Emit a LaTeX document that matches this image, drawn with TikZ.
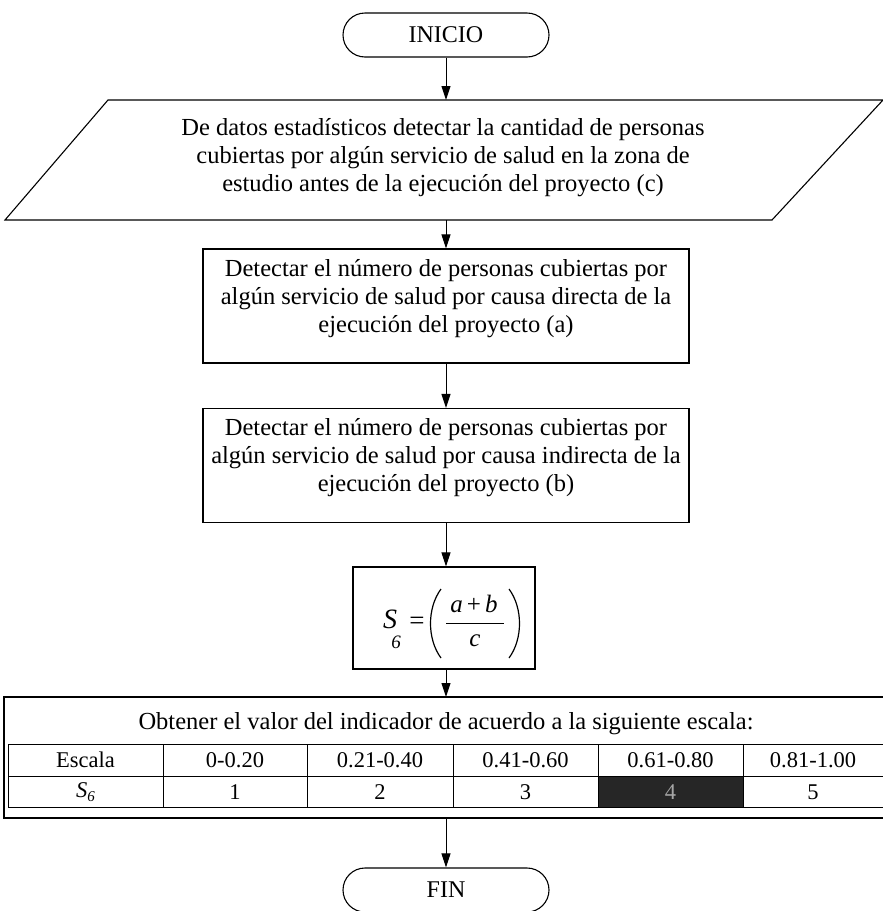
\documentclass[tikz,border=0pt]{standalone}
\usepackage{fontspec}
\setmainfont{Liberation Serif}
\usetikzlibrary{arrows.meta}
\begin{document}
\begin{tikzpicture}[x=1pt,y=-1pt,
  lw/.style={line width=1.1pt},
  arr/.style={line width=1pt,-{Triangle[width=9pt,length=14pt]}},
  txt/.style={align=center,font=\fontsize{24.5}{28}\selectfont,inner sep=0pt},
  term/.style={draw,lw,rounded corners=22pt,minimum width=206pt,minimum height=44pt,inner sep=0pt,font=\fontsize{24}{26}\selectfont},
  procbox/.style={draw,lw,minimum width=486pt,minimum height=114pt,inner sep=0pt},
  cell/.style={font=\fontsize{22.5}{24}\selectfont,inner sep=0pt},
  fml/.style={inner sep=0pt,font=\fontsize{25}{28}\selectfont\itshape},
  grid/.style={line width=0.8pt}]
\useasboundingbox (0,0) rectangle (883,911);
% INICIO
\node[term] (inicio) at (446,35) {INICIO};
% parallelogram
\draw[lw] (108,100) -- (883,100) -- (772,220) -- (5,220) -- cycle;
\coordinate (ptop) at (446,100);
\coordinate (pbot) at (446,220);
\node[txt] (datos) at (443,158) {De datos estadísticos detectar la cantidad de personas\\
cubiertas por algún servicio de salud en la zona de\\
estudio antes de la ejecución del proyecto (c)};
% boxes
\node[procbox] (b1) at (446,306) {};
\node[txt] (t1) at (446,299) {Detectar el número de personas cubiertas por\\
algún servicio de salud por causa directa de la\\
ejecución del proyecto (a)};
\node[procbox] (b2) at (446,465.5) {};
\node[txt] (t2) at (446,458) {Detectar el número de personas cubiertas por\\
algún servicio de salud por causa indirecta de la\\
ejecución del proyecto (b)};
% formula
\node[draw,lw,minimum width=182pt,minimum height=102pt,inner sep=0pt] (form) at (444,618) {};
\node[fml,font=\fontsize{28}{30}\selectfont\itshape] (fS) at (390,619) {S};
\node[fml,font=\fontsize{19}{20}\selectfont\itshape] (f6) at (396,642) {6};
\node[fml,font=\fontsize{27}{28}\selectfont] (feq) at (417,623) {=};
\node[fml] (fnum) at (474,604) {a\,{\upshape +}\,b};
\node[fml] (fden) at (475,641) {c};
\draw[line width=0.9pt] (446,623) -- (504,623);
\draw[line width=1.2pt] (441,589) .. controls (427,608) and (427,639) .. (441,658);
\draw[line width=1.2pt] (509,589) .. controls (523,608) and (523,639) .. (509,658);
% table
\draw[lw] (883,697) -- (4,697) -- (4,818) -- (883,818);
\coordinate (ttop) at (446,697);
\coordinate (tbot) at (446,818);
\node[cell,font=\fontsize{24.5}{26}\selectfont] (titulo) at (446,724) {Obtener el valor del indicador de acuerdo a la siguiente escala:};
\fill[black!85] (598,776) rectangle (743,807);
\draw[grid] (883,744) -- (8,744) -- (8,807) -- (883,807);
\draw[grid] (8,776) -- (883,776);
\foreach \x in {163,307,453,598,743} \draw[grid] (\x,744) -- (\x,807);
\node[cell] (e0) at (85.5,760) {Escala};
\node[cell] (e1) at (235,760) {0-0.20};
\node[cell] (e2) at (380,760) {0.21-0.40};
\node[cell] (e3) at (525.5,760) {0.41-0.60};
\node[cell] (e4) at (670.5,760) {0.61-0.80};
\node[cell] (e5) at (813,760) {0.81-1.00};
\node[cell] (s0) at (85.5,792) {\itshape S\raisebox{-0.35ex}{\fontsize{15}{16}\selectfont 6}};
\node[cell] (s1) at (235,792) {1};
\node[cell] (s2) at (380,792) {2};
\node[cell] (s3) at (525.5,792) {3};
\node[cell,text=black!35] (s4) at (670.5,792) {4};
\node[cell] (s5) at (813,792) {5};
% FIN
\node[term] (fin) at (446,890) {FIN};
% connectors
\draw[arr] (inicio) -- (ptop);
\draw[arr] (pbot) -- (b1);
\draw[arr] (b1) -- (b2);
\draw[arr] (b2) -- (b2.south |- form.north);
\draw[arr] (b2.south |- form.south) -- (ttop);
\draw[arr] (tbot) -- (fin);
\end{tikzpicture}
\end{document}
